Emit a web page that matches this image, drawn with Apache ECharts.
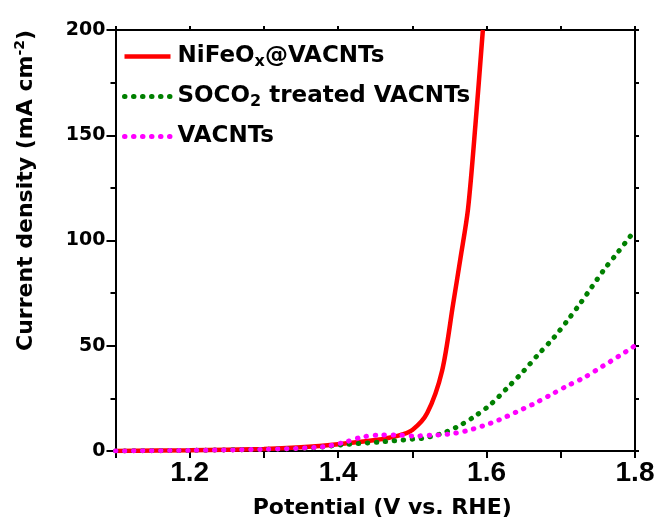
<!DOCTYPE html>
<html>
<head>
<meta charset="utf-8">
<script src="https://cdn.jsdelivr.net/npm/echarts@6/dist/echarts.min.js"></script>
<style>
  html, body {margin: 0; padding: 0; background: #fff;}
  #chart {width: 662px; height: 525px;}
</style>
</head>
<body>
<div id="chart"></div>
<script>
// potential (V vs. RHE) and current density (mA cm-2)
const nifeoV = [1.10, 1.20, 1.30, 1.35, 1.40, 1.45, 1.48, 1.50, 1.52, 1.54, 1.555, 1.565, 1.575, 1.585, 1.595];
const nifeoJ = [0, 0.4, 1.0, 1.8, 3.2, 5.2, 7.2, 10, 18, 38, 70, 92, 115, 155, 200];

const socoV = [1.10, 1.20, 1.30, 1.365, 1.407, 1.457, 1.502, 1.513, 1.537, 1.560, 1.582, 1.605, 1.628, 1.650, 1.670, 1.691, 1.709, 1.726, 1.742, 1.758, 1.776, 1.795, 1.80];
const socoJ = [0, 0.3, 0.8, 1.5, 3, 4.3, 5.7, 6, 8, 11.4, 16, 22, 30, 38, 46, 54, 62, 70, 78, 86, 94, 102.6, 105];

const vacntV = [1.10, 1.20, 1.30, 1.38, 1.41, 1.432, 1.457, 1.48, 1.502, 1.526, 1.549, 1.572, 1.595, 1.617, 1.640, 1.663, 1.686, 1.709, 1.732, 1.757, 1.778, 1.80];
const vacntJ = [0, 0.3, 0.8, 2, 4.3, 6.6, 7.6, 7.6, 7.1, 7.5, 8, 9.5, 11.9, 14.8, 18.5, 22.3, 26.6, 31, 35, 40.4, 45, 50];

const seriesNames = ['NiFeOx@VACNTs', 'SOCO2 treated VACNTs', 'VACNTs'];
const legendLabels = [
  '{t|NiFeO}{sub|x}{t|@VACNTs}',
  '{t|SOCO}{sub|2}{t| treated VACNTs}',
  '{t|VACNTs}'
];
const xLabels = ['1.2', '1.4', '1.6', '1.8'];

const pair = (xs, ys) => xs.map((x, i) => [x, ys[i]]);
const font = 'DejaVu Sans';
const black = '#000';
const solid = {width: 4.5};
const dots = {width: 5, type: [0.5, 8.5], cap: 'round'};
const axisLine = {show: true, onZero: false, lineStyle: {color: black, width: 2}};
const tickStyle = {color: black, width: 2};

const chart = echarts.init(document.getElementById('chart'));
chart.setOption({
  animation: false,
  backgroundColor: '#fff',
  grid: {left: 115.5, right: 27, top: 30, bottom: 74},
  legend: {
    orient: 'vertical',
    left: 117,
    top: 40,
    itemWidth: 46,
    itemHeight: 14,
    itemGap: 15,
    itemStyle: {opacity: 0},
    data: [
      {name: seriesNames[0], lineStyle: solid},
      {name: seriesNames[1], lineStyle: dots},
      {name: seriesNames[2], lineStyle: dots}
    ],
    formatter: name => legendLabels[seriesNames.indexOf(name)],
    textStyle: {
      padding: [0, 0, 0, 2],
      rich: {
        t: {fontFamily: font, fontWeight: 'bold', fontSize: 23, lineHeight: 27, color: black},
        sub: {fontFamily: font, fontWeight: 'bold', fontSize: 16, lineHeight: 4, verticalAlign: 'bottom', color: black}
      }
    }
  },
  xAxis: [{
    type: 'value',
    min: 1.1,
    max: 1.8,
    interval: 0.1,
    axisLine: axisLine,
    axisTick: {length: 7, lineStyle: tickStyle},
    splitLine: {show: false},
    axisLabel: {
      margin: 8,
      color: black,
      fontFamily: 'Liberation Sans',
      fontWeight: 'bold',
      fontSize: 28,
      formatter: v => {
        const s = v.toFixed(1);
        return xLabels.includes(s) ? s : '';
      }
    },
    name: 'Potential (V vs. RHE)',
    nameLocation: 'middle',
    nameGap: 46,
    nameTextStyle: {fontFamily: font, fontWeight: 'bold', fontSize: 22, color: black, padding: [0, 0, 0, 14]}
  }, {
    type: 'value',
    position: 'top',
    min: 1.1,
    max: 1.8,
    interval: 0.1,
    axisLine: axisLine,
    axisTick: {length: 4, lineStyle: tickStyle},
    axisLabel: {show: false},
    splitLine: {show: false}
  }],
  yAxis: [{
    type: 'value',
    min: 0,
    max: 200,
    interval: 50,
    axisLine: axisLine,
    axisTick: {show: true, length: 9, lineStyle: tickStyle},
    minorTick: {show: true, splitNumber: 2, length: 5, lineStyle: tickStyle},
    splitLine: {show: false},
    axisLabel: {margin: 10, color: black, fontFamily: font, fontWeight: 'bold', fontSize: 19},
    name: 'Current density (mA cm{sup|-2})',
    nameLocation: 'middle',
    nameRotate: 90,
    nameGap: 76,
    nameTextStyle: {
      fontFamily: font, fontWeight: 'bold', fontSize: 22, lineHeight: 26, color: black,
      padding: [0, 0, 0, 100],
      rich: {
        sup: {fontFamily: font, fontWeight: 'bold', fontSize: 14, lineHeight: 6, verticalAlign: 'top', color: black}
      }
    }
  }, {
    type: 'value',
    position: 'right',
    min: 0,
    max: 200,
    interval: 50,
    axisLine: axisLine,
    axisTick: {show: true, length: 4, lineStyle: tickStyle},
    minorTick: {show: true, splitNumber: 2, length: 4, lineStyle: tickStyle},
    axisLabel: {show: false},
    splitLine: {show: false}
  }],
  series: [{
    name: seriesNames[0],
    type: 'line',
    data: pair(nifeoV, nifeoJ),
    color: '#ff0000',
    lineStyle: solid
  }, {
    name: seriesNames[1],
    type: 'line',
    data: pair(socoV, socoJ),
    color: '#008000',
    lineStyle: dots
  }, {
    name: seriesNames[2],
    type: 'line',
    data: pair(vacntV, vacntJ),
    color: '#ff00ff',
    lineStyle: dots
  }].map(s => ({...s, symbol: 'none', smooth: 0.3, clip: true}))
});
</script>
</body>
</html>
